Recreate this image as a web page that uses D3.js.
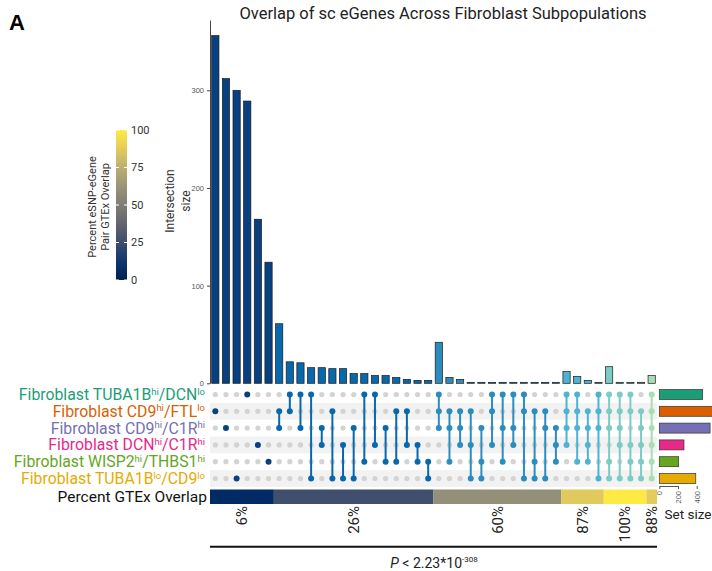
<!DOCTYPE html>
<html><head><meta charset="utf-8">
<script src="https://cdn.jsdelivr.net/npm/d3@7"></script>
<style>body{margin:0;background:#fff}svg{display:block;font-family:Roboto,"Liberation Sans",sans-serif}</style>
</head><body><svg id="c" width="712" height="571"></svg>
<script>
// ---------- data ----------
const setNames = ["Fibroblast TUBA1B^hi/DCN^lo", "Fibroblast CD9^hi/FTL^lo", "Fibroblast CD9^hi/C1R^hi",
  "Fibroblast DCN^hi/C1R^hi", "Fibroblast WISP2^hi/THBS1^hi", "Fibroblast TUBA1B^lo/CD9^lo"];
const setColors = ["#1b9e77", "#d95f02", "#7570b3", "#e7298a", "#66a61e", "#e6ab02"];
const setSizes = [464, 570, 543, 264, 207, 390];
const intersectionSets = [
  [2],[3],[6],[1],[4],[5],
  [2,3],[1,2],[1,3],[1,6],[3,4],[2,6],[4,6],[3,6],[1,5],[1,4],[3,5],[2,5],[2,4],[4,5],[5,6],
  [1,2,3],[2,3,5],[2,3,4],[2,4,6],[3,5,6],[1,2,4],[1,3,5],[1,3,4],[1,2,6],[2,5,6],[2,3,6],[3,4,5],
  [1,2,3,4],[1,2,3,5],[2,3,4,5],[1,2,3,6],
  [1,2,3,5,6],[1,2,3,4,6],[1,2,4,5,6],[2,3,4,5,6],
  [1,2,3,4,5,6]
];
const intersectionSizes = [356,312,300,289,168,124,
  61,22,21,16,16,15,15,10,10,8,8,6,4,3,3,
  42,6,4,1,1,1,1,1,1,1,1,1,
  12,7,3,1,
  17,1,1,1,
  8];
const degreeColors = ["#084081", "#0868ac", "#2b8cbe", "#4eb3d3", "#7bccc4", "#a8ddb5"];
const overlapPercent = [6, 26, 60, 87, 100, 88];
const overlapLabels = ["6%", "26%", "60%", "87%", "100%", "88%"];
const yTicks = [0, 100, 200, 300];
const setSizeTicks = [0, 200, 400];
const legendTicks = [0, 25, 50, 75, 100];

// ---------- layout ----------
const svg = d3.select("#c");
const nCols = intersectionSizes.length;
const x = d3.scaleBand().domain(d3.range(nCols)).range([210, 657]).paddingInner(0.32).paddingOuter(0.16);
const y = d3.scaleLinear().domain([0, 372]).range([383.3, 20]);
const rowY = d3.scalePoint().domain(d3.range(6)).range([394.5, 478.5]);
const rowH = 16.8;
const sx = d3.scaleLinear().domain([0, 200]).range([659.3, 678]);
const cividis = d3.interpolateCividis;
const gap = (x.step() - x.bandwidth()) / 2;

function richText(sel, str, supSize) {
  let raised = false;
  str.split(/(\^(?:hi|lo))/).forEach(p => {
    if (!p) return;
    if (p.startsWith("^")) {
      sel.append("tspan").attr("font-size", supSize).attr("dy", -5.5).text(p.slice(1));
      raised = true;
    } else {
      const t = sel.append("tspan").text(p);
      if (raised) { t.attr("dy", 5.5); raised = false; }
    }
  });
}

// panel letter + title
svg.append("text").attr("x", 9).attr("y", 30).attr("font-size", 22).attr("font-weight", "bold")
  .attr("font-family", "Liberation Sans, Arial, sans-serif").text("A");
svg.append("text").attr("x", 443).attr("y", 19).attr("text-anchor", "middle").attr("font-size", 16.5)
  .attr("fill", "#222").text("Overlap of sc eGenes Across Fibroblast Subpopulations");

// row shading
svg.append("g").selectAll("rect").data(d3.range(6).filter(i => i % 2 === 1)).join("rect")
  .attr("x", 210).attr("width", 447).attr("y", i => rowY(i) - rowH / 2).attr("height", rowH)
  .attr("fill", "#f2f2f2");

// y axis
const yAxis = svg.append("g").attr("transform", "translate(210,0)")
  .call(d3.axisLeft(y).tickValues(yTicks).tickSize(3).tickSizeOuter(0));
yAxis.select(".domain").attr("stroke", "#444");
yAxis.selectAll(".tick line").attr("stroke", "#444");
yAxis.selectAll("text").attr("font-size", 7.5).attr("fill", "#555");

svg.append("text").attr("transform", "translate(174,201) rotate(-90)").attr("text-anchor", "middle")
  .attr("font-size", 12).attr("fill", "#333").text("Intersection");
svg.append("text").attr("transform", "translate(190,201) rotate(-90)").attr("text-anchor", "middle")
  .attr("font-size", 12).attr("fill", "#333").text("size");

// bars
svg.append("g").selectAll("rect").data(intersectionSizes).join("rect")
  .attr("x", (d, i) => x(i)).attr("width", x.bandwidth())
  .attr("y", d => y(d)).attr("height", d => y(0) - y(d))
  .attr("fill", (d, i) => degreeColors[intersectionSets[i].length - 1])
  .attr("stroke", "#1a1a1a").attr("stroke-width", 0.7);

// matrix
const mat = svg.append("g");
intersectionSets.forEach((sets, i) => {
  const cx = x(i) + x.bandwidth() / 2;
  const col = degreeColors[sets.length - 1];
  d3.range(6).forEach(r => {
    if (!sets.includes(r + 1)) mat.append("circle").attr("cx", cx).attr("cy", rowY(r)).attr("r", 2.6).attr("fill", "#d3d3d3");
  });
  if (sets.length > 1) {
    const ys = sets.map(s => rowY(s - 1));
    mat.append("line").attr("x1", cx).attr("x2", cx).attr("y1", d3.min(ys)).attr("y2", d3.max(ys))
      .attr("stroke", col).attr("stroke-width", 2);
  }
  sets.forEach(s => mat.append("circle").attr("cx", cx).attr("cy", rowY(s - 1)).attr("r", 3).attr("fill", col));
});

// set labels
setNames.forEach((n, i) => {
  const t = svg.append("text").attr("x", 205).attr("y", rowY(i) + 5.5).attr("text-anchor", "end")
    .attr("font-size", 15.8).attr("fill", setColors[i]);
  richText(t, n, 9.5);
});
svg.append("text").attr("x", 207).attr("y", 502).attr("text-anchor", "end").attr("font-size", 15.5)
  .attr("fill", "#111").text("Percent GTEx Overlap");

// set size bars
svg.append("g").selectAll("rect").data(setSizes).join("rect")
  .attr("x", sx(0)).attr("width", d => sx(d) - sx(0))
  .attr("y", (d, i) => rowY(i) - 5).attr("height", 10)
  .attr("fill", (d, i) => setColors[i]).attr("stroke", "#333").attr("stroke-width", 0.7);
const sAxis = svg.append("g").attr("transform", "translate(0,486)")
  .call(d3.axisBottom(sx).tickValues(setSizeTicks).tickSize(3).tickSizeOuter(0));
sAxis.select(".domain").attr("stroke", "#555");
sAxis.selectAll(".tick line").attr("stroke", "#555");
sAxis.selectAll("text").attr("font-size", 7.5).attr("fill", "#555")
  .attr("transform", "rotate(-90)").attr("text-anchor", "end").attr("x", -5).attr("y", 0).attr("dy", "0.32em");
svg.append("text").attr("x", 688).attr("y", 519).attr("text-anchor", "middle").attr("font-size", 13.5)
  .attr("fill", "#222").text("Set size");

// percent overlap bar
const degrees = d3.range(1, 7);
const groups = degrees.map(d => {
  const idx = intersectionSets.map((s, i) => s.length === d ? i : -1).filter(i => i >= 0);
  return {d, first: d3.min(idx), last: d3.max(idx)};
});
groups.forEach((g, k) => {
  const x0 = x(g.first) - gap, x1 = x(g.last) + x.bandwidth() + gap;
  svg.append("rect").attr("x", x0).attr("width", x1 - x0).attr("y", 489.5).attr("height", 14.5)
    .attr("fill", cividis(overlapPercent[k] / 100));
  svg.append("text").attr("transform", `translate(${(x0 + x1) / 2},506) rotate(-90)`)
    .attr("text-anchor", "end").attr("dy", "0.35em").attr("font-size", 15).attr("fill", "#222")
    .text(overlapLabels[k]);
});

// p-value bracket
svg.append("line").attr("x1", x(0) - gap).attr("x2", x(nCols - 1) + x.bandwidth() + gap)
  .attr("y1", 546.7).attr("y2", 546.7).attr("stroke", "#111").attr("stroke-width", 2);
const pt = svg.append("text").attr("x", 434).attr("y", 567.5).attr("text-anchor", "middle")
  .attr("font-size", 14).attr("fill", "#222");
pt.append("tspan").attr("font-style", "italic").text("P");
pt.append("tspan").text(" < 2.23*10");
pt.append("tspan").attr("font-size", 8).attr("dy", -6).text("-308");

// colour bar legend
const defs = svg.append("defs");
const grad = defs.append("linearGradient").attr("id", "cv").attr("x1", 0).attr("x2", 0).attr("y1", 1).attr("y2", 0);
d3.range(0, 1.0001, 0.1).forEach(t => grad.append("stop").attr("offset", t).attr("stop-color", cividis(t)));
const ly = d3.scaleLinear().domain([0, 100]).range([280, 130]);
svg.append("rect").attr("x", 116).attr("y", ly(100)).attr("width", 11).attr("height", ly(0) - ly(100))
  .attr("fill", "url(#cv)");
svg.append("g").selectAll("line").data(legendTicks).join("line")
  .attr("x1", 116).attr("x2", 119).attr("y1", d => ly(d)).attr("y2", d => ly(d)).attr("stroke", "#fff");
svg.append("g").selectAll("line").data(legendTicks).join("line")
  .attr("x1", 124).attr("x2", 127).attr("y1", d => ly(d)).attr("y2", d => ly(d)).attr("stroke", "#fff");
svg.append("g").selectAll("text").data(legendTicks).join("text")
  .attr("x", 131).attr("y", d => ly(d)).attr("dy", "0.35em").attr("font-size", 11).attr("fill", "#333")
  .text(d => d);
svg.append("text").attr("transform", "translate(96,207) rotate(-90)").attr("text-anchor", "middle")
  .attr("font-size", 11).attr("fill", "#333").text("Percent eSNP-eGene");
svg.append("text").attr("transform", "translate(109,207) rotate(-90)").attr("text-anchor", "middle")
  .attr("font-size", 11).attr("fill", "#333").text("Pair GTEx Overlap");
</script></body></html>
